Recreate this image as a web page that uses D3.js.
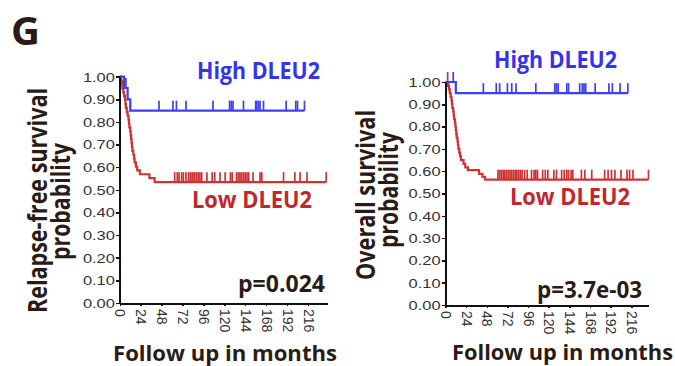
<!DOCTYPE html>
<html>
<head>
<meta charset="utf-8">
<script src="https://cdn.jsdelivr.net/npm/d3@7"></script>
<style>
  body { margin: 0; background: #fff; }
  svg { display: block; }
</style>
</head>
<body>
<div id="chart"></div>
<script>
// tick values
const xTicks = [0, 24, 48, 72, 96, 120, 144, 168, 192, 216];
const yTicks = [0, 0.1, 0.2, 0.3, 0.4, 0.5, 0.6, 0.7, 0.8, 0.9, 1.0];

// relapse-free survival, high DLEU2
const rfsHighTimes = [0, 5, 9, 12];
const rfsHighSurv = [1.0, 0.95, 0.90, 0.85];
const rfsHighCensored = [7, 45, 61, 65, 76, 107, 126, 128, 130, 142, 156, 157, 159, 161, 165, 191, 202, 204, 212];

// relapse-free survival, low DLEU2
const rfsLowTimes = [0, 1.5, 2.5, 3, 4, 5, 6, 6.5, 7, 8, 9, 10, 10.5, 11, 12, 12.5, 13, 13.5, 14, 14.5, 15.5, 16.5, 17, 18.5, 20, 23, 34, 40];
const rfsLowSurv = [1, 0.983, 0.966, 0.948, 0.931, 0.914, 0.897, 0.879, 0.862, 0.845, 0.828, 0.810, 0.793, 0.776, 0.759, 0.741, 0.724, 0.707, 0.690, 0.672, 0.655, 0.638, 0.621, 0.603, 0.586, 0.569, 0.552, 0.534];
const rfsLowCensored = [63, 66, 68, 71, 73, 76, 79, 81, 83, 84, 86, 88, 90, 92, 94, 100, 106, 109, 115, 121, 127, 129, 134, 136, 138, 140, 142, 144, 146, 148, 153, 161, 163, 188, 201, 207, 215, 237];

// overall survival, high DLEU2
const osHighTimes = [0, 12];
const osHighSurv = [1.0, 0.95];
const osHighCensored = [9, 44, 59, 63, 72, 77, 82, 105, 127, 129, 131, 141, 143, 156, 159, 161, 163, 174, 190, 194, 203, 212];

// overall survival, low DLEU2
const osLowTimes = [0, 3, 4, 5, 6, 7, 7.5, 8, 9, 9.5, 10, 11, 11.5, 12, 12.5, 13, 14, 14.5, 15, 16, 17, 18, 21, 23, 26, 39, 43, 46];
const osLowSurv = [1, 0.983, 0.967, 0.950, 0.933, 0.917, 0.900, 0.883, 0.867, 0.850, 0.833, 0.817, 0.800, 0.783, 0.767, 0.750, 0.733, 0.717, 0.700, 0.683, 0.667, 0.650, 0.633, 0.617, 0.605, 0.588, 0.575, 0.562];
const osLowCensored = [2.5, 61, 63, 65, 67, 69, 71, 73, 75, 77, 79, 81, 83, 85, 87, 89, 92, 95, 100, 103, 105, 107, 113, 116, 119, 126, 129, 135, 138, 141, 143, 146, 148, 158, 162, 170, 185, 189, 193, 197, 204, 211, 214, 218, 236];

const blueLine = "#3e3ef2";
const redLine = "#cc3434";
const blueText = "#3434f0";
const redText = "#c2272d";
const dark = "#2a1b16";
const boldFont = "'Open Sans', 'DejaVu Sans', sans-serif";
const tickFont = "'Liberation Sans', Arial, sans-serif";

const svg = d3.select("#chart")
    .append("svg")
    .attr("width", 675)
    .attr("height", 366);

svg.append("text")
    .attr("x", 11)
    .attr("y", 45)
    .attr("fill", dark)
    .attr("textLength", 29)
    .attr("lengthAdjust", "spacingAndGlyphs")
    .style("font-family", boldFont)
    .style("font-weight", 700)
    .style("font-size", "40px")
    .text("G");

function boldText(x, y, str, size, len, color, rotate) {
    const t = svg.append("text")
        .attr("transform", `translate(${x},${y})` + (rotate ? " rotate(-90)" : ""))
        .attr("fill", color)
        .attr("textLength", len)
        .attr("lengthAdjust", "spacingAndGlyphs")
        .style("font-family", boldFont)
        .style("font-weight", 700)
        .style("font-size", size + "px")
        .text(str);
    if (rotate) t.attr("text-anchor", "middle");
    return t;
}

function survAt(times, surv, t) {
    const i = d3.bisectRight(times, t) - 1;
    return surv[Math.max(0, i)];
}

function drawPanel(p) {
    const x = d3.scaleLinear().domain([0, p.xMax]).range([p.x0, p.x1]);
    const y = d3.scaleLinear().domain([0, 1]).range([p.y0, p.y1]);

    const g = svg.append("g");

    // curves
    p.groups.forEach(function (grp) {
        const end = d3.max(grp.censored);
        const pts = grp.times.map((t, i) => [t, grp.surv[i]]);
        pts.push([end, grp.surv[grp.surv.length - 1]]);

        const line = d3.line()
            .x(d => x(d[0]))
            .y(d => y(d[1]))
            .curve(d3.curveStepAfter);

        g.append("path")
            .datum(pts)
            .attr("d", line)
            .attr("fill", "none")
            .attr("stroke", grp.color)
            .attr("stroke-width", 2.2);

        g.selectAll(null)
            .data(grp.censored)
            .enter()
            .append("line")
            .attr("x1", d => x(d))
            .attr("x2", d => x(d))
            .attr("y1", d => y(survAt(grp.times, grp.surv, d)))
            .attr("y2", d => y(survAt(grp.times, grp.surv, d)) - 10)
            .attr("stroke", grp.color)
            .attr("stroke-width", 1.7);
    });

    // y axis
    const yAxis = g.append("g")
        .attr("transform", `translate(${p.x0},0)`)
        .call(d3.axisLeft(y).tickValues(yTicks).tickFormat(d3.format(".2f")).tickSize(4).tickSizeOuter(0));
    yAxis.select(".domain").attr("stroke", "#111").attr("stroke-width", 2);
    yAxis.selectAll(".tick line").attr("stroke", "#111").attr("stroke-width", 1.5);
    yAxis.selectAll(".tick text")
        .attr("x", -3.6)
        .attr("dy", "0.36em")
        .attr("transform", "scale(1.37,1)")
        .attr("fill", "#333")
        .style("font-family", tickFont)
        .style("font-size", "12px");

    // x axis
    const xAxis = g.append("g")
        .attr("transform", `translate(0,${p.y0})`)
        .call(d3.axisBottom(x).tickValues(xTicks).tickSize(3).tickSizeOuter(0));
    xAxis.select(".domain").attr("stroke", "#111").attr("stroke-width", 2);
    xAxis.selectAll(".tick line").attr("stroke", "#111").attr("stroke-width", 1.5);
    xAxis.selectAll(".tick text")
        .attr("x", 6)
        .attr("y", 0)
        .attr("dy", "0.35em")
        .attr("transform", "rotate(90)")
        .attr("fill", "#333")
        .style("text-anchor", "start")
        .style("font-family", tickFont)
        .style("font-size", "14px");
    xAxis.selectAll("path, line").attr("shape-rendering", "crispEdges");
    yAxis.selectAll("path, line").attr("shape-rendering", "crispEdges");

    // labels
    boldText(p.highLabel[0], p.highLabel[1], "High DLEU2", 24, 123, blueText);
    boldText(p.lowLabel[0], p.lowLabel[1], "Low DLEU2", 24, 120, redText);
    boldText(p.pLabel[0], p.pLabel[1], p.pText, 23, p.pLabel[2], dark);
    boldText(p.xTitle[0], p.xTitle[1], "Follow up in months", 22, p.xTitle[2], dark);
    boldText(p.yTitle1[0], p.yTitle1[1], p.yText1, 27, p.yTitle1[2], dark, true);
    boldText(p.yTitle2[0], p.yTitle2[1], "probability", 27, p.yTitle2[2], dark, true);
}

drawPanel({
    x0: 119.8, x1: 327.1, xMax: 238,
    y0: 303, y1: 76.7,
    groups: [
        { times: rfsLowTimes, surv: rfsLowSurv, censored: rfsLowCensored, color: redLine },
        { times: rfsHighTimes, surv: rfsHighSurv, censored: rfsHighCensored, color: blueLine }
    ],
    highLabel: [197, 79],
    lowLabel: [192, 208],
    pText: "p=0.024",
    pLabel: [238, 292, 87],
    xTitle: [113, 361, 224],
    yText1: "Relapse-free survival",
    yTitle1: [47, 200.5, 225],
    yTitle2: [70, 201.5, 117]
});

drawPanel({
    x0: 445.5, x1: 648.5, xMax: 236,
    y0: 305, y1: 82,
    groups: [
        { times: osLowTimes, surv: osLowSurv, censored: osLowCensored, color: redLine },
        { times: osHighTimes, surv: osHighSurv, censored: osHighCensored, color: blueLine }
    ],
    highLabel: [494, 68],
    lowLabel: [510, 205],
    pText: "p=3.7e-03",
    pLabel: [537, 298, 105],
    xTitle: [452, 360, 221],
    yText1: "Overall survival",
    yTitle1: [375, 195, 170],
    yTitle2: [398, 190, 116]
});
</script>
</body>
</html>
